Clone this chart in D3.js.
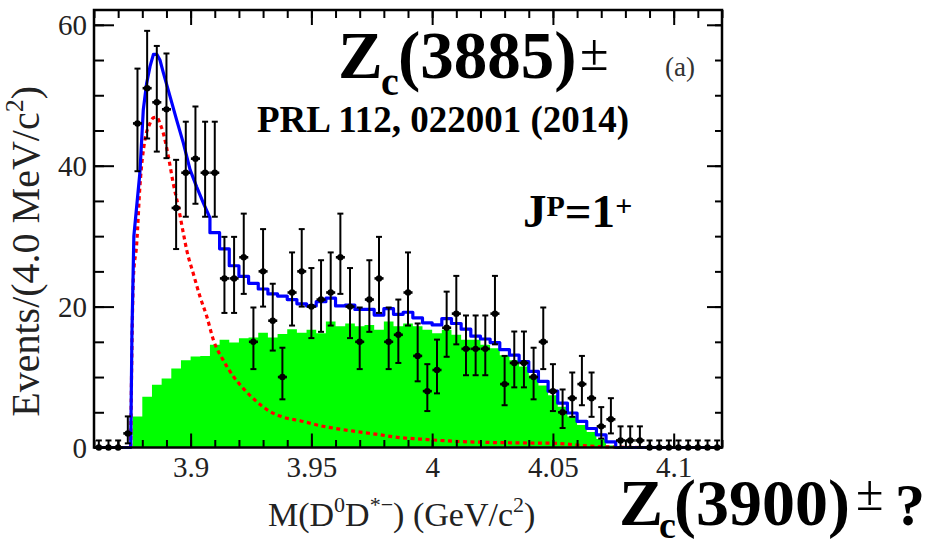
<!DOCTYPE html>
<html>
<head>
<meta charset="utf-8">
<script src="https://cdn.jsdelivr.net/npm/d3@7"></script>
<style>
body { margin: 0; background: #fff; }
svg text { font-family: "Liberation Serif", "Times New Roman", serif; }
</style>
</head>
<body>
<div id="chart"></div>
<script>
// histogram binning, GeV/c^2
var binLow = 3.86;
var binWidth = 0.004;

// events per bin (data points)
var dataCounts = [
    0, 0, 0, 2, 46, 51, 49, 48, 34, 39, 41, 39, 39,
    24, 24, 27, 15, 25, 18, 10, 22, 25,
    20, 21, 22, 27, 20, 15, 21, 24, 15,
    16, 22, 13, 8, 11, 17, 19, 14, 14, 14,
    19, 9, 12, 12, 10, 15, 8, 5, 7, 9,
    7, 3, 4, 1, 1, 1,
    0, 0, 0, 0, 0, 0, 0, 0
];

// background component (green) per bin
var bkgLevels = [
    0, 0, 0, 0, 4.4, 7.2, 8.9, 9.8, 11.2, 12.4, 12.9, 13.0, 14.6,
    15.3, 14.9, 15.5, 15.6, 16.3, 15.6, 16.1, 16.8, 16.3,
    16.7, 16.2, 17.9, 17.2, 17.6, 17.2, 17.4, 16.7, 17.9,
    17.2, 17.6, 17.2, 16.7, 16.2, 16.7, 16.0, 15.3, 15.3, 14.6,
    14.1, 13.1, 12.4, 11.5, 10.2, 8.8, 7.4, 5.8, 4.4, 3.2,
    2.2, 1.2, 0.3, 0, 0, 0,
    0, 0, 0, 0, 0, 0, 0, 0
];

// total fit (blue): smooth near threshold ...
var totalPeakMass  = [3.8752, 3.8757, 3.8765, 3.8790, 3.8804, 3.8818, 3.8832, 3.8846, 3.8860,
                      3.8873, 3.8887, 3.8915, 3.8942, 3.8970, 3.8998, 3.9025, 3.9053, 3.9080];
var totalPeakValue = [0, 16, 30, 39, 47.9, 51.7, 54.1, 55.8, 55.8,
                      55.0, 53.2, 49.8, 46.5, 43.2, 39.4, 37.0, 34.7, 32.6];
// ... then one level per bin from 3.908 on
var totalTailStart = 3.908;
var totalTailLevels = [
    30.5, 28.2, 25.8, 24.3, 23.3, 22.5, 21.8, 21.5, 21.0, 20.4,
    20.1, 20.7, 21.2, 20.1, 20.2, 19.6, 19.6, 18.8, 19.7, 18.9,
    19.2, 18.4, 17.7, 17.4, 18.3, 17.6, 16.8, 15.8, 15.4, 14.9,
    13.9, 13.1, 12.2, 10.8, 9.4, 8.0, 6.3, 4.9, 3.7, 2.7,
    1.8, 0.8
];

// signal component (red dashed)
var signalMass  = [3.8752, 3.8757, 3.8763, 3.8777, 3.8790, 3.8811, 3.8829, 3.8846, 3.8860,
                   3.8873, 3.8887, 3.8908, 3.8928, 3.8949, 3.8970, 3.8984, 3.9011, 3.9039,
                   3.9067, 3.9094, 3.9135, 3.9177, 3.9218, 3.9274, 3.9329, 3.9384, 3.9453,
                   3.9536, 3.9619, 3.9701, 3.9784, 3.9867, 3.9950, 4.0033, 4.0116, 4.0198,
                   4.0364, 4.0501, 4.0650, 4.0861];
var signalValue = [0, 14, 24, 29, 37, 43.7, 45.8, 46.8, 46.9,
                   46.0, 44.6, 41.3, 37.5, 34.2, 30.4, 28.0, 24.7, 21.4,
                   18.6, 15.3, 12.4, 10.1, 8.4, 6.5, 5.1, 4.3, 3.8,
                   3.1, 2.6, 2.2, 1.8, 1.4, 1.2, 1.0, 0.85, 0.75,
                   0.65, 0.6, 0.2, 0];

var xMajorTicks = [3.9, 3.95, 4, 4.05, 4.1];
var yMajorTicks = [0, 20, 40, 60];

function Plot (id) {
    this.id = id;
    this.width = 926;
    this.height = 541;
    this.frame = {left: 94, right: 722, top: 10, bottom: 447.5};
}

Plot.prototype.build = function build () {
    var f = this.frame;
    this.x = d3.scaleLinear().domain([3.86, 4.12]).range([f.left, f.right]);
    this.y = d3.scaleLinear().domain([0, 62.1]).range([f.bottom, f.top]);

    this.svg = d3.select("#" + this.id).append("svg")
        .attr("width", this.width)
        .attr("height", this.height);

    this.drawBackground();
    this.drawSignal();
    this.drawTotal();
    this.drawData();
    this.drawAxes();
    this.drawLabels();
}

Plot.prototype.drawBackground = function () {
    var x = this.x, y = this.y;
    var pts = bkgLevels.map(function (v, i) { return [binLow + binWidth * i, v]; });
    pts.push([binLow + binWidth * bkgLevels.length, bkgLevels[bkgLevels.length - 1]]);

    var area = d3.area()
        .curve(d3.curveStepAfter)
        .x(function (d) { return x(d[0]); })
        .y0(y(0))
        .y1(function (d) { return y(d[1]); });

    this.svg.append("path")
        .datum(pts)
        .attr("fill", "#00ff00")
        .attr("d", area);
}

Plot.prototype.drawSignal = function () {
    var x = this.x, y = this.y;
    var pts = signalMass.map(function (m, i) { return [m, signalValue[i]]; });
    var line = d3.line()
        .curve(d3.curveMonotoneX)
        .x(function (d) { return x(d[0]); })
        .y(function (d) { return y(d[1]); });

    this.svg.append("path")
        .datum(pts)
        .attr("fill", "none")
        .attr("stroke", "#ff0000")
        .attr("stroke-width", 3.2)
        .attr("stroke-dasharray", "4,3.5")
        .attr("d", line);
}

Plot.prototype.drawTotal = function () {
    var x = this.x, y = this.y;
    var pts = [[binLow, 0]];
    totalPeakMass.forEach(function (m, i) { pts.push([m, totalPeakValue[i]]); });
    totalTailLevels.forEach(function (v, i) {
        pts.push([totalTailStart + binWidth * i, v]);
        pts.push([totalTailStart + binWidth * (i + 1), v]);
    });
    var end = totalTailStart + binWidth * totalTailLevels.length;
    pts.push([end, 0]);
    pts.push([4.12, 0]);

    var line = d3.line()
        .x(function (d) { return x(d[0]); })
        .y(function (d) { return y(d[1]); });

    this.svg.append("path")
        .datum(pts)
        .attr("fill", "none")
        .attr("stroke", "#0000ff")
        .attr("stroke-width", 3.2)
        .attr("stroke-linejoin", "round")
        .attr("d", line);
}

Plot.prototype.drawData = function () {
    var x = this.x, y = this.y;
    var pts = dataCounts.map(function (n, i) {
        return {
            lo: binLow + binWidth * i,
            mid: binLow + binWidth * (i + 0.5),
            hi: binLow + binWidth * (i + 1),
            n: n,
            // poisson errors
            up: Math.sqrt(n) + 1,
            down: Math.sqrt(n)
        };
    });

    var g = this.svg.append("g")
        .attr("stroke", "#000")
        .attr("fill", "#000");

    var p = g.selectAll("g.pt").data(pts).enter().append("g").attr("class", "pt");

    p.append("line")
        .attr("x1", function (d) { return x(d.mid); })
        .attr("x2", function (d) { return x(d.mid); })
        .attr("y1", function (d) { return y(d.n + d.up); })
        .attr("y2", function (d) { return y(d.n - d.down); })
        .attr("stroke-width", 2);

    p.append("line")
        .attr("x1", function (d) { return x(d.mid) - 3; })
        .attr("x2", function (d) { return x(d.mid) + 3; })
        .attr("y1", function (d) { return y(d.n + d.up); })
        .attr("y2", function (d) { return y(d.n + d.up); })
        .attr("stroke-width", 2);

    p.filter(function (d) { return d.n > 0; }).append("line")
        .attr("x1", function (d) { return x(d.mid) - 3; })
        .attr("x2", function (d) { return x(d.mid) + 3; })
        .attr("y1", function (d) { return y(d.n - d.down); })
        .attr("y2", function (d) { return y(d.n - d.down); })
        .attr("stroke-width", 2);

    p.append("line")
        .attr("x1", function (d) { return x(d.lo) + 0.3; })
        .attr("x2", function (d) { return x(d.hi) - 0.3; })
        .attr("y1", function (d) { return y(d.n); })
        .attr("y2", function (d) { return y(d.n); })
        .attr("stroke-width", 2.6);

    p.append("circle")
        .attr("cx", function (d) { return x(d.mid); })
        .attr("cy", function (d) { return y(d.n); })
        .attr("r", 3.2)
        .attr("stroke", "none");
}

Plot.prototype.drawAxes = function () {
    var x = this.x, y = this.y, f = this.frame;
    var svg = this.svg;

    var xMinor = d3.range(3.86, 4.1201, 0.01);
    var yMinor = d3.range(0, 62, 5);

    function style(sel) {
        sel.select(".domain").remove();
        sel.selectAll(".tick line").attr("stroke", "#000").attr("stroke-width", 2);
    }

    // bottom
    svg.append("g").attr("transform", "translate(0," + f.bottom + ")")
        .call(d3.axisBottom(x).tickValues(xMinor).tickSize(-7.5).tickFormat(""))
        .call(style);
    var xb = svg.append("g").attr("transform", "translate(0," + f.bottom + ")")
        .call(d3.axisBottom(x).tickValues(xMajorTicks).tickSize(-14).tickFormat(function (d) { return String(d); }))
        .call(style);
    xb.selectAll(".tick text")
        .attr("y", 29.5).attr("dy", 0)
        .attr("font-size", 29).attr("fill", "#222")
        .style("font-family", "Liberation Serif");

    // top
    svg.append("g").attr("transform", "translate(0," + f.top + ")")
        .call(d3.axisTop(x).tickValues(xMinor).tickSize(-8).tickFormat(""))
        .call(style);
    svg.append("g").attr("transform", "translate(0," + f.top + ")")
        .call(d3.axisTop(x).tickValues(xMajorTicks).tickSize(-15).tickFormat(""))
        .call(style);

    // left
    svg.append("g").attr("transform", "translate(" + f.left + ",0)")
        .call(d3.axisLeft(y).tickValues(yMinor).tickSize(-10).tickFormat(""))
        .call(style);
    var yl = svg.append("g").attr("transform", "translate(" + f.left + ",0)")
        .call(d3.axisLeft(y).tickValues(yMajorTicks).tickSize(-20).tickFormat(d3.format("d")))
        .call(style);
    yl.selectAll(".tick text")
        .attr("x", -7).attr("dy", "0.34em")
        .attr("font-size", 29).attr("fill", "#222")
        .style("font-family", "Liberation Serif");

    // right
    svg.append("g").attr("transform", "translate(" + f.right + ",0)")
        .call(d3.axisRight(y).tickValues(yMinor).tickSize(-7).tickFormat(""))
        .call(style);
    svg.append("g").attr("transform", "translate(" + f.right + ",0)")
        .call(d3.axisRight(y).tickValues(yMajorTicks).tickSize(-15).tickFormat(""))
        .call(style);

    svg.append("rect")
        .attr("x", f.left).attr("y", f.top)
        .attr("width", f.right - f.left).attr("height", f.bottom - f.top)
        .attr("fill", "none").attr("stroke", "#000").attr("stroke-width", 2.5);
}

function addText(svg, x, y, parts, attrs) {
    var t = svg.append("text").attr("x", x).attr("y", y);
    Object.keys(attrs || {}).forEach(function (k) { t.attr(k, attrs[k]); });
    parts.forEach(function (p) {
        var s = t.append("tspan").text(p.t);
        if (p.size) s.attr("font-size", p.size);
        if (p.dy) s.attr("dy", p.dy);
        if (p.dx) s.attr("dx", p.dx);
        if (p.weight) s.attr("font-weight", p.weight);
    });
    return t;
}

Plot.prototype.drawLabels = function () {
    var svg = this.svg;

    // axis titles
    addText(svg, 268, 526, [
        {t: "M(D"}, {t: "0", size: 22, dy: -14}, {t: "D", dy: 14},
        {t: "*\u2212", size: 22, dy: -14}, {t: ") (GeV/c", dy: 14},
        {t: "2", size: 22, dy: -14}, {t: ")", dy: 14}
    ], {"font-size": 34, "fill": "#222"});

    addText(svg, 0, 0, [
        {t: "Events/(4.0 MeV/c"}, {t: "2", size: 26, dy: -16}, {t: ")", dy: 16}
    ], {"font-size": 40, "fill": "#222", "text-anchor": "end",
        "transform": "translate(39,86) rotate(-90)"});

    // top label
    svg.append("text").attr("x", 338).attr("y", 78)
        .attr("font-size", 67).attr("font-weight", "bold").text("Z");
    svg.append("text").attr("x", 381).attr("y", 95)
        .attr("font-size", 40).attr("font-weight", "bold").text("c");
    svg.append("text").attr("x", 398).attr("y", 78)
        .attr("font-size", 67).attr("font-weight", "bold").text("(3885)");
    svg.append("text").attr("x", 580).attr("y", 70)
        .attr("font-size", 52).text("\u00b1");

    svg.append("text").attr("x", 665).attr("y", 76)
        .attr("font-size", 27).attr("fill", "#333").text("(a)");

    svg.append("text").attr("x", 257).attr("y", 132)
        .attr("font-size", 37).attr("font-weight", "bold").text("PRL 112, 022001 (2014)");

    addText(svg, 523, 227, [
        {t: "J"}, {t: "P", size: 30, dy: -11}, {t: "=1", dy: 11},
        {t: "+", size: 30, dy: -11}
    ], {"font-size": 47, "font-weight": "bold"});

    // bottom right label
    svg.append("text").attr("x", 619).attr("y", 525)
        .attr("font-size", 66).attr("font-weight", "bold").text("Z");
    svg.append("text").attr("x", 659).attr("y", 538)
        .attr("font-size", 38).attr("font-weight", "bold").text("c");
    svg.append("text").attr("x", 674).attr("y", 525)
        .attr("font-size", 66).attr("font-weight", "bold").text("(3900)");
    svg.append("text").attr("x", 856).attr("y", 510)
        .attr("font-size", 50).text("\u00b1");
    svg.append("text").attr("x", 895).attr("y", 525)
        .attr("font-size", 60).attr("font-weight", "bold").text("?");
}

var plot = new Plot("chart");
plot.build();
</script>
</body>
</html>
